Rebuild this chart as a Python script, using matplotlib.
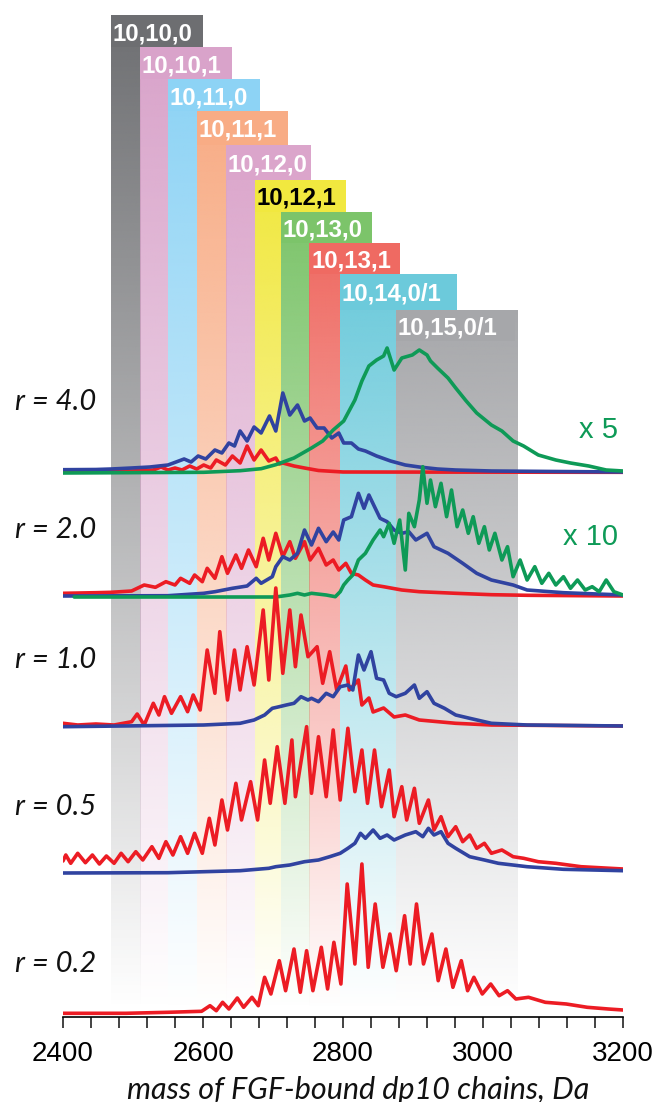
import numpy as np
import matplotlib
matplotlib.use("Agg")
import matplotlib.pyplot as plt
from matplotlib.patches import Rectangle

# ---------------- data ----------------
band_labels = ["10,10,0", "10,10,1", "10,11,0", "10,11,1", "10,12,0",
               "10,12,1", "10,13,0", "10,13,1", "10,14,0/1", "10,15,0/1"]
band_left = [2468, 2510, 2550, 2591, 2633, 2674, 2711, 2752, 2795, 2875]
band_right = [2510, 2550, 2591, 2633, 2674, 2711, 2752, 2795, 2875, 3049]
box_right = [2600, 2641, 2681, 2722, 2754, 2804, 2841, 2881, 2963, 3045]
band_colors = ["#6d6e71", "#d9a3ca", "#8dd3f5", "#f8ac85", "#dba5cb",
               "#f1e83f", "#7cc46a", "#ef6a62", "#6ccadb", "#a6a7aa"]
label_colors = ["white"] * 5 + ["black"] + ["white"] * 4

panel_labels = ["r = 4.0", "r = 2.0", "r = 1.0", "r = 0.5", "r = 0.2"]
scale_labels = ["x 5", "x 10"]

# r = 4.0
r40_red_x = [2400, 2498, 2529, 2540, 2550, 2560, 2570, 2581, 2591, 2601, 2611, 2619, 2632,
             2642, 2653, 2663, 2673, 2683, 2694, 2704, 2709, 2714, 2730, 2745, 2765, 2800, 3200]
r40_red_y = [1.7, 2, 3, 6, 3, 5, 3, 7, 4, 8, 5, 13, 8,
             17, 10, 27, 13, 23, 12, 15, 9, 10, 7, 5, 2.5, 1, 0.7]
r40_blue_x = [2400, 2447, 2469, 2498, 2524, 2550, 2573, 2583, 2593, 2604, 2617, 2627, 2637,
              2645, 2653, 2663, 2673, 2683, 2695, 2704, 2714, 2724, 2735, 2745, 2753, 2763,
              2773, 2784, 2794, 2801, 2812, 2822, 2832, 2848, 2868, 2889, 2909, 2935, 2961,
              3012, 3200]
r40_blue_y = [3.3, 3.5, 4, 5, 6, 8, 14, 11, 17, 14, 23, 20, 30,
              27, 42, 32, 46, 40, 57, 42, 80, 58, 68, 52, 55, 45,
              45, 35, 40, 30, 30, 24, 22, 17, 12, 8, 6, 4, 3,
              2, 1]
r40_green_x = [2400, 2601, 2653, 2683, 2704, 2730, 2755, 2771, 2786, 2801, 2817, 2827, 2837,
               2848, 2858, 2863, 2873, 2884, 2899, 2909, 2920, 2925, 2935, 2950, 2961, 2976,
               2991, 3012, 3027, 3043, 3058, 3079, 3104, 3125, 3151, 3176, 3200]
r40_green_y = [0, 0.7, 2.3, 4.3, 8.3, 15, 25, 32, 43, 52, 73, 92, 107,
               113, 117, 125, 103, 115, 118, 123, 118, 112, 105, 95, 85, 72,
               60, 48, 42, 32, 27, 18, 13, 10, 7, 3, 2]

# r = 2.0
r20_red_x = [2400, 2447, 2469, 2498, 2516, 2532, 2547, 2560, 2568, 2581, 2588, 2599, 2606,
             2617, 2627, 2635, 2647, 2655, 2665, 2676, 2686, 2694, 2704, 2714, 2724, 2732,
             2745, 2753, 2765, 2776, 2786, 2794, 2804, 2812, 2822, 2832, 2843, 2858, 2884,
             2909, 2961, 3012, 3063, 3200]
r20_red_y = [3.7, 4.3, 4.7, 6, 12, 9.7, 15.3, 12, 18.7, 13.7, 22, 15.3, 28.7,
             18.7, 40.3, 23.7, 42, 28.7, 47, 30.3, 58.7, 37, 63.7, 40.3, 55.3, 38.7,
             55.3, 37, 48.7, 32, 37, 27, 33.7, 23.7, 22, 17, 12, 10.3, 7,
             5.3, 3.7, 2.3, 1.7, 1]
r20_blue_x = [2400, 2550, 2601, 2617, 2642, 2663, 2676, 2683, 2699, 2704, 2714, 2724, 2735,
              2745, 2755, 2765, 2776, 2786, 2794, 2801, 2812, 2822, 2830, 2837, 2845, 2853,
              2863, 2873, 2884, 2894, 2904, 2920, 2930, 2950, 2971, 2991, 3012, 3043, 3063,
              3115, 3200]
r20_blue_y = [1, 1.3, 3.7, 5.3, 8.7, 11, 18.7, 13.7, 20.3, 30.3, 40.3, 37, 43.7,
              67, 52, 68.7, 55.3, 65, 57, 77, 80.3, 103.7, 88.7, 102, 90.3, 78.7,
              75.3, 67, 63.7, 65.3, 57, 63.7, 50.3, 43.7, 33.7, 23.7, 17, 12, 7,
              4.3, 2]
r20_green_x = [2416, 2704, 2724, 2735, 2745, 2755, 2776, 2789, 2796, 2801, 2807, 2814, 2822,
               2832, 2843, 2853, 2858, 2866, 2873, 2881, 2889, 2894, 2902, 2909, 2914, 2920,
               2925, 2932, 2940, 2948, 2955, 2963, 2971, 2979, 2986, 2994, 3002, 3009, 3017,
               3027, 3035, 3043, 3053, 3063, 3074, 3084, 3094, 3104, 3115, 3125, 3135, 3146,
               3156, 3166, 3176, 3187, 3200]
r20_green_y = [0, 0, 2, 3.7, 2, 3.7, 2, 0.3, 5.3, 12, 17, 22, 37,
               43.7, 57, 67, 60.3, 73.7, 53.7, 77, 27, 83.7, 70.3, 97, 130.3, 93.7,
               117, 90.3, 113.7, 80.3, 107, 70.3, 87, 63.7, 80.3, 53.7, 70.3, 47, 63.7,
               37, 50.3, 20.3, 37, 17, 30.3, 13.7, 23.7, 12, 20.3, 8.7, 17, 7,
               10.3, 5.3, 17, 5.3, 2]

# r = 1.0
r10_red_x = [2400, 2421, 2447, 2473, 2498, 2506, 2516, 2529, 2537, 2545, 2555, 2568, 2578,
             2586, 2596, 2606, 2617, 2624, 2635, 2645, 2653, 2663, 2673, 2686, 2694, 2704,
             2714, 2724, 2732, 2740, 2750, 2763, 2771, 2781, 2791, 2804, 2809, 2822, 2827,
             2837, 2843, 2858, 2873, 2889, 2909, 2961, 3012, 3200]
r10_red_y = [3.7, 2, 3, 2, 5.3, 13, 2, 23.7, 12, 30.3, 13.7, 30.3, 15.3,
             32, 17, 77, 33.7, 95.3, 27, 77, 37, 80.3, 42, 117, 47, 139,
             53.7, 117, 60.3, 112, 70.3, 80.3, 43.7, 75.3, 37, 61, 37, 47, 22,
             29, 15, 19, 10, 12, 7, 3.7, 2, 1]
r10_blue_x = [2400, 2601, 2653, 2673, 2688, 2699, 2709, 2719, 2730, 2740, 2750, 2755, 2765,
              2776, 2786, 2796, 2807, 2814, 2822, 2830, 2840, 2848, 2858, 2866, 2876, 2889,
              2902, 2909, 2920, 2930, 2945, 2961, 2981, 3012, 3063, 3200]
r10_blue_y = [0.3, 2, 3.7, 7, 12, 18.7, 20.3, 22, 23.7, 30.3, 27, 28.7, 25.3,
              33.7, 30.3, 40.3, 42, 37, 72, 57, 75.3, 48.7, 47, 33.7, 30.3, 33.7,
              42, 28.7, 35.3, 23.7, 18.7, 12, 8.7, 3.7, 2, 1]

# r = 0.5
r05_red_x = [2400, 2404, 2411, 2421, 2432, 2442, 2452, 2462, 2473, 2483, 2493, 2504, 2514,
             2527, 2537, 2547, 2557, 2568, 2578, 2588, 2599, 2609, 2617, 2627, 2635, 2647,
             2655, 2668, 2678, 2688, 2696, 2706, 2717, 2727, 2732, 2748, 2755, 2765, 2776,
             2786, 2796, 2807, 2817, 2827, 2835, 2845, 2855, 2866, 2873, 2884, 2891, 2902,
             2909, 2922, 2930, 2940, 2950, 2961, 2971, 2981, 2991, 3002, 3012, 3027, 3043,
             3058, 3079, 3104, 3140, 3166, 3200]
r05_red_y = [12, 18, 9.7, 19.7, 10.3, 18, 9, 17, 9.7, 19.7, 11.3, 21.3, 13,
             26.3, 14.7, 31.3, 18, 36.3, 19.7, 39.7, 19.7, 54.7, 28, 73, 43, 89.7,
             53, 91.3, 53, 113, 69.7, 126.3, 69.7, 133, 76.3, 146.3, 79.7, 136.3, 76.3,
             143, 73, 144.7, 81.3, 123, 69.7, 123, 66.3, 103, 56.3, 86.3, 53, 84.7,
             49.7, 73, 43, 56.3, 36.3, 46.3, 31.3, 38, 24.7, 29.7, 19.7, 23, 16.3,
             14.7, 11.3, 9.7, 6.3, 5.3, 4]
r05_blue_x = [2400, 2550, 2653, 2694, 2704, 2724, 2745, 2765, 2781, 2796, 2807, 2817, 2825,
              2832, 2843, 2853, 2863, 2873, 2889, 2904, 2914, 2922, 2930, 2940, 2950, 2961,
              2981, 3002, 3022, 3063, 3115, 3200]
r05_blue_y = [0, 0.3, 2.3, 4.7, 6.3, 8, 11.3, 13, 16.3, 19.7, 24.7, 29.7, 39.7,
              34.7, 43, 34.7, 38, 33, 38, 41.3, 36.3, 44.7, 38, 41.3, 29.7, 24.7,
              16.3, 13, 9.7, 6.3, 3.7, 2.3]

# r = 0.2
r02_red_x = [2400, 2490, 2550, 2598, 2610, 2619, 2628, 2637, 2649, 2658, 2670, 2679, 2688,
             2697, 2709, 2718, 2730, 2739, 2748, 2757, 2769, 2778, 2787, 2797, 2806, 2817,
             2827, 2836, 2846, 2857, 2867, 2876, 2888, 2896, 2905, 2915, 2927, 2936, 2947,
             2957, 2969, 2978, 2987, 2999, 3011, 3023, 3035, 3047, 3065, 3089, 3119, 3149,
             3179, 3200]
r02_red_y = [0.7, 0.7, 1.7, 2.7, 8.3, 3.3, 11.7, 5, 16, 6.7, 16.7, 8.3, 36.7,
             20, 53.3, 23.3, 65, 21.7, 63.3, 23.3, 66.7, 25, 71.7, 30, 130, 50,
             150, 46.7, 110, 46.7, 80, 43.3, 98.3, 50, 110, 50, 80, 33.3, 65,
             26.7, 53.3, 23.3, 36.7, 20, 30, 18.3, 23.3, 15, 16.7, 11.7, 10, 6.7,
             5, 4]

# ---------------- layout ----------------
W, H = 655, 1102
SPINE_PX = 1017
fig = plt.figure(figsize=(W / 100, H / 100), dpi=100)
ax = fig.add_axes([63 / W, (H - SPINE_PX) / H, 560 / W, SPINE_PX / H])

def ypx(px):
    return SPINE_PX - px

box_top_px = [15, 47, 79, 111, 145, 180, 212, 243, 274, 310]
box_bot_px = [47, 79, 111, 145, 180, 212, 243, 274, 310, 341]
band_bottom_px = 1010

# gradient bands
for i in range(len(band_labels)):
    rgb = matplotlib.colors.to_rgb(band_colors[i])
    n = 256
    img = np.zeros((n, 1, 4))
    img[:, 0, 0] = rgb[0]
    img[:, 0, 1] = rgb[1]
    img[:, 0, 2] = rgb[2]
    img[:, 0, 3] = np.linspace(1.0, 0.0, n)
    ax.imshow(img, extent=[band_left[i], band_right[i], ypx(band_bottom_px), ypx(box_top_px[i])],
              aspect="auto", interpolation="bilinear", zorder=0)
    ax.add_patch(Rectangle((band_left[i], ypx(box_bot_px[i])), box_right[i] - band_left[i],
                           box_bot_px[i] - box_top_px[i], facecolor=band_colors[i],
                           edgecolor="none", zorder=1))
    ax.text(band_left[i] + 2.5, ypx((box_top_px[i] + box_bot_px[i]) / 2), band_labels[i],
            color=label_colors[i], fontsize=17.3, fontweight="bold",
            family="Liberation Sans", ha="left", va="center_baseline", zorder=2)

RED = "#ec1c24"
BLUE = "#3043a0"
GREEN = "#0e9a57"
LW = 2.6

panels = [
    (473, [(r40_red_x, r40_red_y, RED), (r40_blue_x, r40_blue_y, BLUE), (r40_green_x, r40_green_y, GREEN)]),
    (597, [(r20_red_x, r20_red_y, RED), (r20_blue_x, r20_blue_y, BLUE), (r20_green_x, r20_green_y, GREEN)]),
    (727, [(r10_red_x, r10_red_y, RED), (r10_blue_x, r10_blue_y, BLUE)]),
    (873, [(r05_red_x, r05_red_y, RED), (r05_blue_x, r05_blue_y, BLUE)]),
    (1014, [(r02_red_x, r02_red_y, RED)]),
]
for base_px, traces in panels:
    off = ypx(base_px)
    for xs, ys, c in traces:
        ax.plot(xs, np.asarray(ys) + off, color=c, lw=LW, solid_joinstyle="round",
                solid_capstyle="round", zorder=3)

ax.set_xlim(2400, 3200)
ax.set_ylim(0, SPINE_PX)
for s in ["top", "left", "right"]:
    ax.spines[s].set_visible(False)
ax.spines["bottom"].set_linewidth(1.2)
ax.set_yticks([])
ax.set_xticks(np.arange(2400, 3201, 200))
ax.set_xticks(np.arange(2400, 3201, 40), minor=True)
ax.tick_params(axis="x", which="both", direction="out", length=8, width=1.2, color="#222222")
ax.tick_params(axis="x", which="major", labelsize=20, pad=9)
for lab in ax.get_xticklabels():
    lab.set_family("Liberation Sans")

fig.text(358 / W, 1 - 1090 / H, "mass of FGF-bound dp10 chains, Da", ha="center", va="center",
         fontsize=22, style="italic", family="Lato", color="#111111")

label_y_px = [402, 530, 660, 807, 964]
for t, py in zip(panel_labels, label_y_px):
    fig.text(56 / W, 1 - py / H, t, ha="center", va="center", fontsize=21,
             style="italic", family="Lato", color="#111111")

for t, py in zip(scale_labels, [430, 537]):
    fig.text(618 / W, 1 - py / H, t, ha="right", va="center", fontsize=21,
             family="Liberation Sans", color=GREEN)

fig.savefig("out.png", dpi=100)
